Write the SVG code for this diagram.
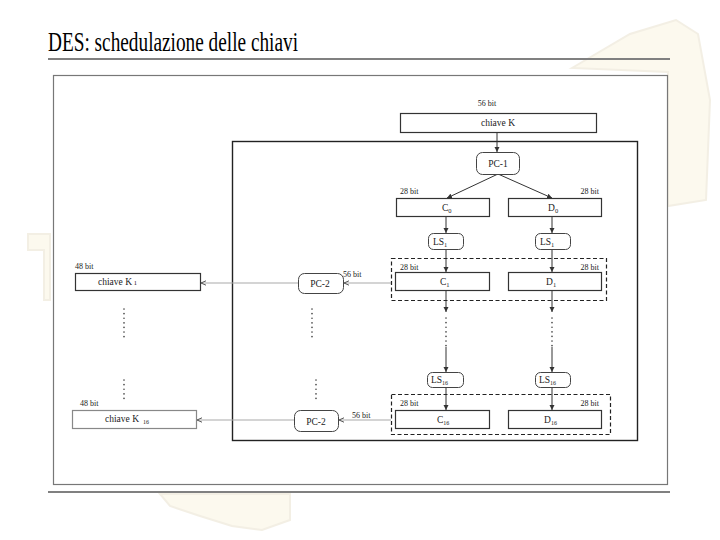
<svg xmlns="http://www.w3.org/2000/svg" width="720" height="540" viewBox="0 0 720 540">
<style>
.box{fill:#fff;stroke:#333;stroke-width:1.2}
.rb{fill:#fff;stroke:#444;stroke-width:1}
.dash{fill:none;stroke:#222;stroke-width:1.2;stroke-dasharray:4 2.5}
.ln{stroke:#333;stroke-width:1;fill:none}
.gl{stroke:#aaa;stroke-width:1.2;fill:none}
.dot{stroke:#444;stroke-width:1.6;stroke-dasharray:0.1 4.5;stroke-linecap:round;fill:none}
.wm{fill:#f6ecc8;stroke:#d8cba8;stroke-width:2;opacity:0.3}
</style>
<defs>
<marker id="a" markerWidth="6" markerHeight="6" refX="5" refY="3" orient="auto" markerUnits="userSpaceOnUse">
<path d="M0,0.5 L5,3 L0,5.5 Z" fill="#333"/>
</marker>
<marker id="g" markerWidth="7" markerHeight="6" refX="5" refY="3" orient="auto" markerUnits="userSpaceOnUse">
<path d="M0,0.8 L5,3 L0,5.2" fill="none" stroke="#555" stroke-width="1"/>
</marker>
</defs>
<rect width="720" height="540" fill="#fff"/>
<g id="watermark">
<path class="wm" d="M572,68 L630,34 L676,20 L698,34 L710,100 L706,200 L668,206 L668,72 Z"/>
<path class="wm" d="M28,234 L50,234 L50,300 L44,300 L44,250 L28,250 Z"/>
<path class="wm" d="M160,494 L290,494 L290,520 L262,530 L232,526 L200,516 L170,506 Z"/>
</g>
<g id="title">
<text x="48" y="51" style="font-family:'Liberation Serif','DejaVu Serif',serif" font-size="27" fill="#000" textLength="250" lengthAdjust="spacingAndGlyphs">DES: schedulazione delle chiavi</text>
<line x1="48" y1="59" x2="670" y2="59" stroke="#808080" stroke-width="2"/>
<line x1="48" y1="492" x2="670" y2="492" stroke="#808080" stroke-width="2"/>
</g>
<rect x="53.5" y="75.5" width="614" height="409" fill="#fff" stroke="#777" stroke-width="1.2"/>
<rect x="232.5" y="141.5" width="405" height="299" fill="none" stroke="#222" stroke-width="1.4"/>
<g id="connectors">
<line class="ln" x1="497" y1="132" x2="497" y2="152" marker-end="url(#a)"/>
<line class="ln" x1="498" y1="174" x2="447" y2="198" marker-end="url(#a)"/>
<line class="ln" x1="498" y1="174" x2="552" y2="198" marker-end="url(#a)"/>
<line class="ln" x1="446" y1="216" x2="446" y2="233" marker-end="url(#a)"/>
<line class="ln" x1="552" y1="216" x2="552" y2="233" marker-end="url(#a)"/>
<line class="ln" x1="446" y1="249" x2="446" y2="272" marker-end="url(#a)"/>
<line class="ln" x1="552" y1="249" x2="552" y2="272" marker-end="url(#a)"/>
<line class="ln" x1="446" y1="290" x2="446" y2="312" marker-end="url(#a)"/>
<line class="ln" x1="552" y1="290" x2="552" y2="312" marker-end="url(#a)"/>
<line class="dot" x1="446" y1="318" x2="446" y2="346"/>
<line class="dot" x1="552" y1="318" x2="552" y2="346"/>
<line class="ln" x1="446" y1="347" x2="446" y2="372" marker-end="url(#a)"/>
<line class="ln" x1="552" y1="347" x2="552" y2="372" marker-end="url(#a)"/>
<line class="ln" x1="446" y1="387" x2="446" y2="410" marker-end="url(#a)"/>
<line class="ln" x1="552" y1="387" x2="552" y2="410" marker-end="url(#a)"/>
<line class="gl" x1="391" y1="283" x2="344" y2="283" marker-end="url(#g)"/>
<line class="gl" x1="298" y1="283" x2="201" y2="283" marker-end="url(#g)"/>
<line class="gl" x1="391" y1="420" x2="339" y2="420" marker-end="url(#g)"/>
<line class="gl" x1="294" y1="420" x2="197" y2="420" marker-end="url(#g)"/>
<line class="dot" x1="124" y1="309" x2="124" y2="340"/>
<line class="dot" x1="312" y1="309" x2="312" y2="340"/>
<line class="dot" x1="124" y1="380" x2="124" y2="402"/>
<line class="dot" x1="316" y1="380" x2="316" y2="402"/>
</g>
<g style="font-family:'Liberation Serif','DejaVu Serif',serif" fill="#222">
<g id="chiaveK">
<text x="487" y="106" font-size="8" text-anchor="middle">56  bit</text>
<rect class="box" x="400.5" y="113.5" width="196" height="19"/>
<text x="498" y="126" font-size="9.5" text-anchor="middle">chiave  K</text>
</g>
<g id="pc1">
<rect class="rb" x="476.5" y="152.5" width="43" height="22" rx="6"/>
<text x="498" y="167" font-size="9.5" text-anchor="middle">PC-1</text>
</g>
<g id="c0">
<text x="400" y="194" font-size="8">28  bit</text>
<rect class="box" x="396.5" y="198.5" width="93" height="18"/>
<text x="442" y="211" font-size="9.5">C<tspan font-size="6.5" dy="2">0</tspan></text>
</g>
<g id="d0">
<text x="599" y="194" font-size="8" text-anchor="end">28  bit</text>
<rect class="box" x="508.5" y="198.5" width="93" height="18"/>
<text x="548" y="211" font-size="9.5">D<tspan font-size="6.5" dy="2">0</tspan></text>
</g>
<g id="ls1c">
<rect class="rb" x="428.5" y="233.5" width="35" height="16" rx="5"/>
<text x="433" y="245" font-size="9.5">LS<tspan font-size="6.5" dy="2">1</tspan></text>
</g>
<g id="ls1d">
<rect class="rb" x="535.5" y="233.5" width="35" height="16" rx="5"/>
<text x="540" y="245" font-size="9.5">LS<tspan font-size="6.5" dy="2">1</tspan></text>
</g>
<g id="round1">
<rect class="dash" x="391.5" y="258.5" width="215" height="42"/>
</g>
<g id="c1">
<text x="400" y="270" font-size="8">28  bit</text>
<rect class="box" x="395.5" y="272.5" width="94" height="18"/>
<text x="440" y="285" font-size="9.5">C<tspan font-size="6.5" dy="2">1</tspan></text>
</g>
<g id="d1">
<text x="599" y="270" font-size="8" text-anchor="end">28  bit</text>
<rect class="box" x="508.5" y="272.5" width="93" height="18"/>
<text x="546" y="285" font-size="9.5">D<tspan font-size="6.5" dy="2">1</tspan></text>
</g>
<g id="ls16c">
<rect class="rb" x="427.5" y="372.5" width="36" height="15" rx="5"/>
<text x="431" y="383" font-size="9.5">LS<tspan font-size="6" dy="2">16</tspan></text>
</g>
<g id="ls16d">
<rect class="rb" x="535.5" y="372.5" width="35" height="15" rx="5"/>
<text x="539" y="383" font-size="9.5">LS<tspan font-size="6" dy="2">16</tspan></text>
</g>
<g id="round16">
<rect class="dash" x="391.5" y="394.5" width="219" height="40"/>
</g>
<g id="c16">
<text x="400" y="406" font-size="8">28  bit</text>
<rect class="box" x="395.5" y="410.5" width="94" height="18"/>
<text x="437" y="423" font-size="9.5">C<tspan font-size="6" dy="2">16</tspan></text>
</g>
<g id="d16">
<text x="599" y="406" font-size="8" text-anchor="end">28  bit</text>
<rect class="box" x="508.5" y="410.5" width="93" height="18"/>
<text x="544" y="423" font-size="9.5">D<tspan font-size="6" dy="2">16</tspan></text>
</g>
<g id="pc2a">
<text x="343" y="277" font-size="8">56  bit</text>
<rect class="rb" x="298.5" y="273.5" width="45" height="20" rx="6"/>
<text x="320" y="287" font-size="9.5" text-anchor="middle">PC-2</text>
</g>
<g id="k1">
<text x="75" y="269" font-size="8">48  bit</text>
<rect class="box" x="75.5" y="273.5" width="125" height="17"/>
<text x="98" y="285" font-size="9.5">chiave  K<tspan font-size="6.5"> 1</tspan></text>
</g>
<g id="pc2b">
<text x="352" y="418" font-size="8">56  bit</text>
<rect class="rb" x="294.5" y="410.5" width="44" height="21" rx="6"/>
<text x="316" y="425" font-size="9.5" text-anchor="middle">PC-2</text>
</g>
<g id="k16">
<text x="80" y="406" font-size="8">48  bit</text>
<rect x="72.5" y="410.5" width="124" height="18" fill="#fff" stroke="#888" stroke-width="1.2"/>
<text x="105" y="422" font-size="9.5">chiave  K<tspan font-size="6" dx="4" dy="2">16</tspan></text>
</g>
</g>
</svg>
